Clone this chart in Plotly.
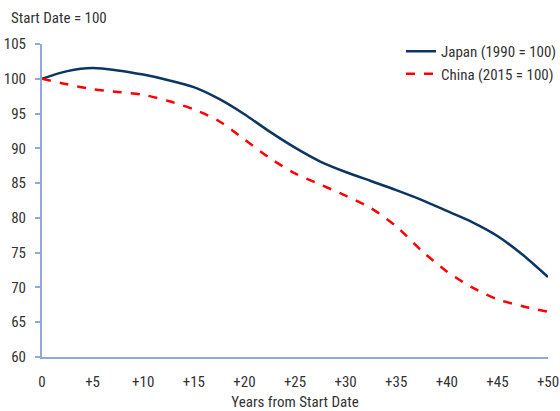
import plotly.graph_objects as go

years = [0, 2.5, 5, 7.5, 10, 12.5, 15, 17.5, 20, 22.5, 25, 27.5, 30, 32.5, 35, 37.5, 40, 42.5, 45, 47.5, 50]
japan = [100, 101.1, 101.55, 101.2, 100.6, 99.8, 98.8, 97.1, 94.9, 92.4, 90.1, 88.1, 86.6, 85.3, 84.0, 82.6, 81.0, 79.4, 77.4, 74.7, 71.5]
china = [100, 99.2, 98.5, 98.1, 97.7, 96.8, 95.6, 93.9, 91.3, 88.6, 86.4, 84.8, 83.2, 81.4, 78.8, 75.3, 72.3, 70.0, 68.3, 67.3, 66.5]
x_ticks = [0, 5, 10, 15, 20, 25, 30, 35, 40, 45, 50]
x_tick_labels = ["0", "+5", "+10", "+15", "+20", "+25", "+30", "+35", "+40", "+45", "+50"]
y_ticks = [60, 65, 70, 75, 80, 85, 90, 95, 100, 105]

FONT = "Liberation Sans Narrow, Roboto Condensed, Roboto, sans-serif"
TXT = "#333333"
AXIS = "#8eaadb"
FS = 15

W, H = 560, 411
L, R, T, B = 42, 12, 44, 54
PW = W - L - R
PH = H - T - B

fig = go.Figure()
fig.add_trace(go.Scatter(x=years, y=japan, mode="lines", name="Japan (1990 = 100)",
                         line=dict(color="#0b3563", width=2.5, shape="spline", smoothing=0.8)))
fig.add_trace(go.Scatter(x=years, y=china, mode="lines", name="China (2015 = 100)",
                         line=dict(color="#ff0000", width=2.5, dash="dash", shape="spline", smoothing=0.8)))

fig.update_layout(
    width=W, height=H,
    margin=dict(l=L, r=R, t=T, b=B, autoexpand=False),
    paper_bgcolor="white", plot_bgcolor="white",
    font=dict(family=FONT, size=FS, color=TXT),
    showlegend=True,
    legend=dict(x=(401 - L) / PW, y=1 + (T - 35) / PH, xanchor="left", yanchor="top",
                bgcolor="rgba(0,0,0,0)", font=dict(family=FONT, size=FS, color=TXT), tracegroupgap=2),
    annotations=[dict(text="Start Date = 100", x=(9 - L) / PW, y=1 + (T - 18) / PH,
                      xref="paper", yref="paper",
                      showarrow=False, xanchor="left", yanchor="middle",
                      font=dict(family=FONT, size=FS, color=TXT))],
)

fig.update_xaxes(range=[0, 50], tickvals=x_ticks, ticktext=x_tick_labels, showgrid=False,
                 zeroline=False, showline=True, linecolor=AXIS, linewidth=2, ticks="",
                 automargin=False, ticklabelstandoff=10,
                 title=dict(text="Years from Start Date", standoff=8, font=dict(family=FONT, size=FS, color=TXT)))
fig.update_yaxes(range=[60, 105], tickvals=y_ticks, showgrid=False, zeroline=False,
                 showline=True, linecolor=AXIS, linewidth=2, ticks="outside", ticklen=5,
                 tickcolor=AXIS, tickwidth=2, automargin=False, ticklabelstandoff=6)

fig.write_html("out.html", config={"displayModeBar": False},
               post_script="document.body.style.margin='0';document.body.style.overflow='hidden';")
